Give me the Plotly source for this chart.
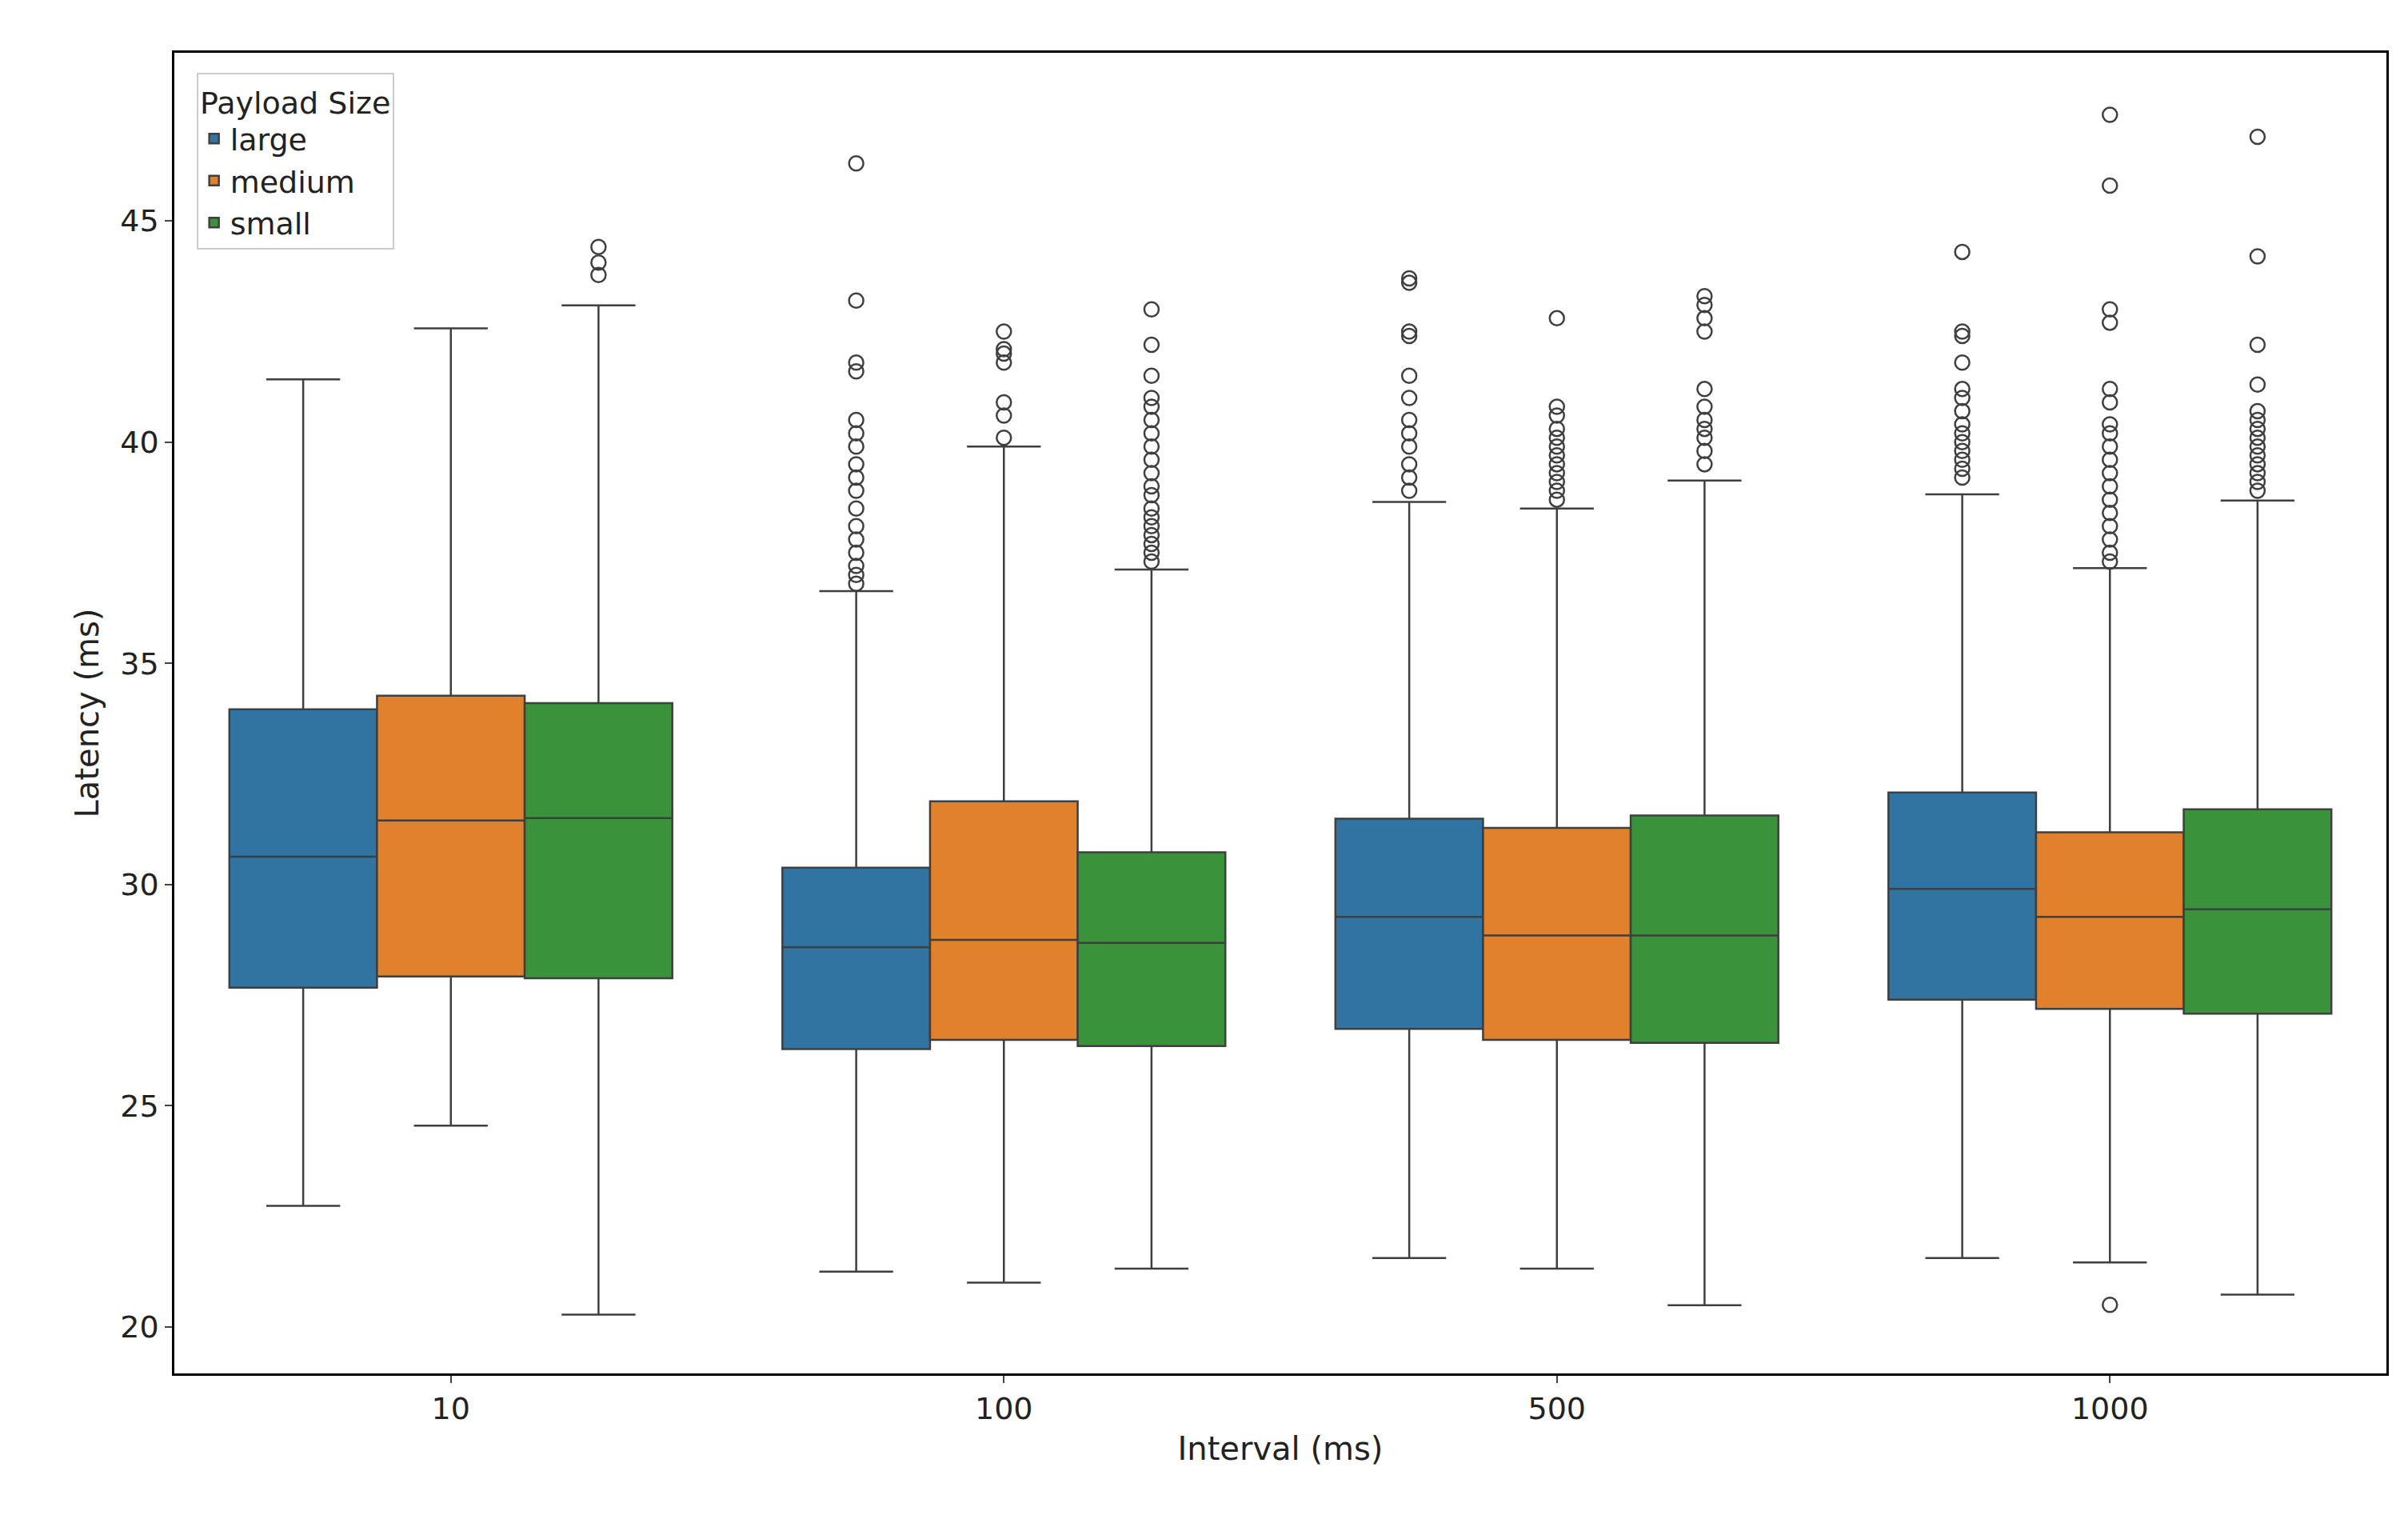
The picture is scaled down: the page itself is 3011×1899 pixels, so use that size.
import plotly.graph_objects as go

intervals = ["10", "100", "500", "1000"]
sizes = ["large", "medium", "small"]
colors = {"large": "#3274a1", "medium": "#e1812c", "small": "#3a923a"}

lower = {"large": [22.74, 21.25, 21.56, 21.56],
         "medium": [24.55, 21.0, 21.32, 21.46],
         "small": [20.28, 21.32, 20.49, 20.73]}
q1 = {"large": [27.67, 26.28, 26.74, 27.4],
      "medium": [27.92, 26.49, 26.49, 27.19],
      "small": [27.88, 26.35, 26.42, 27.08]}
median = {"large": [30.63, 28.58, 29.27, 29.9],
          "medium": [31.45, 28.75, 28.85, 29.27],
          "small": [31.5, 28.68, 28.85, 29.44]}
q3 = {"large": [33.96, 30.38, 31.49, 32.08],
      "medium": [34.27, 31.88, 31.28, 31.18],
      "small": [34.1, 30.73, 31.56, 31.7]}
upper = {"large": [41.42, 36.63, 38.65, 38.82],
         "medium": [42.57, 39.9, 38.5, 37.15],
         "small": [43.09, 37.12, 39.13, 38.68]}

outliers = {
    "large": [
        [],
        [36.8, 37.0, 37.2, 37.5, 37.8, 38.1, 38.5, 38.9, 39.2, 39.5, 39.9, 40.2, 40.5, 41.6, 41.8, 43.2, 46.3],
        [38.9, 39.2, 39.5, 39.9, 40.2, 40.5, 41.0, 41.5, 42.4, 42.5, 43.6, 43.7],
        [39.2, 39.4, 39.6, 39.8, 40.0, 40.2, 40.4, 40.7, 41.0, 41.2, 41.8, 42.4, 42.5, 44.3],
    ],
    "medium": [
        [],
        [40.1, 40.6, 40.9, 41.8, 42.0, 42.1, 42.5],
        [38.7, 38.9, 39.1, 39.3, 39.5, 39.7, 39.9, 40.1, 40.3, 40.6, 40.8, 42.8],
        [20.5, 37.3, 37.5, 37.8, 38.1, 38.4, 38.7, 39.0, 39.3, 39.6, 39.9, 40.2, 40.4, 40.9, 41.2, 42.7, 43.0, 45.8, 47.4],
    ],
    "small": [
        [43.78, 44.06, 44.41],
        [37.3, 37.5, 37.7, 37.9, 38.1, 38.3, 38.5, 38.8, 39.0, 39.3, 39.6, 39.9, 40.2, 40.5, 40.8, 41.0, 41.5, 42.2, 43.0],
        [39.5, 39.8, 40.1, 40.3, 40.5, 40.8, 41.2, 42.5, 42.8, 43.1, 43.3],
        [38.9, 39.1, 39.3, 39.5, 39.7, 39.9, 40.1, 40.3, 40.5, 40.7, 41.3, 42.2, 44.2, 46.9],
    ],
}

box_w = 0.267
offsets = {"large": -box_w, "medium": 0.0, "small": box_w}

fig = go.Figure()
for s in sizes:
    xs = [i + offsets[s] for i in range(len(intervals))]
    fig.add_trace(go.Box(
        x=xs, q1=q1[s], median=median[s], q3=q3[s],
        lowerfence=lower[s], upperfence=upper[s],
        name=s, width=box_w, fillcolor=colors[s],
        line=dict(color="#3f3f3f", width=2.5), whiskerwidth=0.5,
        boxpoints=False,
    ))
    ox, oy = [], []
    for i, pts in enumerate(outliers[s]):
        ox += [xs[i]] * len(pts)
        oy += pts
    fig.add_trace(go.Scatter(
        x=ox, y=oy, mode="markers", showlegend=False, hoverinfo="y",
        marker=dict(symbol="circle-open", size=18, color="#3f3f3f", line=dict(width=2.5)),
    ))

axis_common = dict(showgrid=False, zeroline=False, showline=True, mirror=True,
                   linecolor="black", linewidth=2.5, ticks="outside", ticklen=9,
                   tickwidth=2, tickfont=dict(size=38, color="#222"))
fig.update_layout(
    width=3011, height=1899, template="plotly_white",
    font=dict(family="DejaVu Sans", size=38, color="#222"),
    margin=dict(l=210, r=35, t=58, b=190),
    boxmode="overlay",
    xaxis=dict(range=[-0.5, 3.5], tickvals=list(range(len(intervals))), ticktext=intervals,
               title=dict(text="Interval (ms)", font=dict(size=40)), **axis_common),
    yaxis=dict(range=[18.95, 48.8], tickvals=[20, 25, 30, 35, 40, 45],
               title=dict(text="Latency (ms)", font=dict(size=40)), **axis_common),
    legend=dict(title=dict(text="Payload Size", side="top center", font=dict(size=38)),
                x=0.01, y=0.985, xanchor="left", yanchor="top",
                bgcolor="rgba(255,255,255,0.9)", bordercolor="#cccccc", borderwidth=2,
                font=dict(size=38)),
)

fig.write_html("out.html")
